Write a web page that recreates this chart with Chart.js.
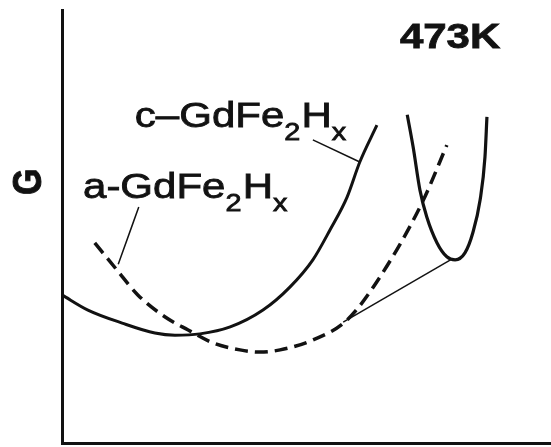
<!DOCTYPE html>
<html>
<head>
<meta charset="utf-8">
<title>G vs x, GdFe2Hx at 473K</title>
<script src="https://cdn.jsdelivr.net/npm/chart.js@4/dist/chart.umd.min.js"></script>
<style>
  html, body { margin: 0; padding: 0; background: #fff; }
  #wrap { width: 551px; height: 447px; }
</style>
</head>
<body>
<div id="wrap"><canvas id="gibbs" width="551" height="447"></canvas></div>
<script>
'use strict';
/* ---------------------------------------------------------------- DATA */
// hydrogen content (arb. units, 0..1) and free energy G (arb. units)
const crystX = [0, 0.053, 0.123, 0.190, 0.231, 0.282, 0.344, 0.411, 0.466, 0.513, 0.548, 0.583, 0.609, 0.644];
const crystG = [0.342, 0.307, 0.277, 0.254, 0.249, 0.252, 0.268, 0.307, 0.360, 0.423, 0.492, 0.568, 0.649, 0.734];

const amorphX = [0.067, 0.112, 0.155, 0.211, 0.258, 0.309, 0.364, 0.405, 0.446, 0.513, 0.583, 0.650, 0.736, 0.787];
const amorphG = [0.462, 0.400, 0.342, 0.291, 0.261, 0.231, 0.215, 0.210, 0.215, 0.238, 0.284, 0.383, 0.554, 0.688];

const hydrideX = [0.706, 0.718, 0.732, 0.746, 0.767, 0.787, 0.804, 0.824, 0.840, 0.855, 0.865, 0.869];
const hydrideG = [0.758, 0.684, 0.584, 0.522, 0.462, 0.430, 0.423, 0.439, 0.485, 0.561, 0.661, 0.753];

// common tangent between the amorphous curve and the hydride
const tangentX = [0.575, 0.798];
const tangentG = [0.279, 0.425];

// pointer lines from the labels to their curves
const crystPointerX = [0.513, 0.609];
const crystPointerG = [0.700, 0.649];
const amorphPointerX = [0.157, 0.115];
const amorphPointerG = [0.545, 0.413];

// text anchors (left edge / baseline) in data units
const tempLabel = '473K';
const tempAt = [0.691, 0.912];
const crystLabelAt = [0.149, 0.730];
const amorphLabelAt = [0.043, 0.566];
const axisLabelAt = [-0.065, 0.603];

/* ---------------------------------------------------------------- HELPERS */
function toPoints(xs, ys){
  return xs.map((x, i) => ({x: x, y: ys[i]}));
}

const INK = '#121212';
const STRETCH = 1.2;  // lettering is a little wider than Liberation Sans
const FONT = '"Liberation Sans", Arial, sans-serif';

// fill plus a thin outline so the letters come out a bit heavier
function inkText(ctx, t, x, y){
  ctx.fillText(t, x, y);
  ctx.strokeText(t, x, y);
}

// draws "prefix GdFe2Hx" with subscripts, left/baseline at (x, y)
function drawFormula(ctx, prefix, x, y){
  const parts = [
    {t: prefix + 'GdFe', sub: false},
    {t: '2', sub: true},
    {t: 'H', sub: false},
    {t: 'x', sub: true}
  ];
  ctx.save();
  ctx.translate(x, y);
  ctx.scale(STRETCH, 1);
  let cx = 0;
  for (const p of parts){
    ctx.font = (p.sub ? '24px ' : '35px ') + FONT;
    inkText(ctx, p.t, cx, p.sub ? 13 : 0);
    cx += ctx.measureText(p.t).width + (p.sub ? 1 : 0);
  }
  ctx.restore();
}

const labelPlugin = {
  id: 'labels',
  afterDatasetsDraw(chart){
    const ctx = chart.ctx;
    const xs = chart.scales.x;
    const ys = chart.scales.y;
    ctx.save();
    ctx.fillStyle = INK;
    ctx.strokeStyle = INK;
    ctx.lineWidth = 0.8;
    ctx.textAlign = 'left';
    ctx.textBaseline = 'alphabetic';

    // temperature
    ctx.save();
    ctx.translate(xs.getPixelForValue(tempAt[0]), ys.getPixelForValue(tempAt[1]));
    ctx.scale(STRETCH, 1);
    ctx.font = 'bold 35px ' + FONT;
    inkText(ctx, tempLabel, 0, 0);
    ctx.restore();

    drawFormula(ctx, 'c\u2013', xs.getPixelForValue(crystLabelAt[0]), ys.getPixelForValue(crystLabelAt[1]));
    drawFormula(ctx, 'a-', xs.getPixelForValue(amorphLabelAt[0]), ys.getPixelForValue(amorphLabelAt[1]));

    // G axis name, rotated
    ctx.save();
    ctx.translate(xs.getPixelForValue(axisLabelAt[0]), ys.getPixelForValue(axisLabelAt[1]));
    ctx.scale(STRETCH, 1);
    ctx.rotate(-Math.PI / 2);
    ctx.textAlign = 'center';
    ctx.textBaseline = 'middle';
    ctx.font = 'bold 34px ' + FONT;
    inkText(ctx, 'G', 0, 0);
    ctx.restore();

    ctx.restore();
  }
};

/* ---------------------------------------------------------------- CHART */
function curve(xs, ys, width, dash){
  return {
    data: toPoints(xs, ys),
    borderColor: INK,
    borderWidth: width,
    borderDash: dash || [],
    pointRadius: 0,
    fill: false,
    cubicInterpolationMode: 'monotone',
    borderCapStyle: 'butt'
  };
}

new Chart(document.getElementById('gibbs'), {
  type: 'line',
  data: {
    datasets: [
      curve(crystX, crystG, 3),
      curve(amorphX, amorphG, 3.5, [13, 7]),
      curve(hydrideX, hydrideG, 3.2),
      curve(tangentX, tangentG, 1.5),
      curve(crystPointerX, crystPointerG, 1.5),
      curve(amorphPointerX, amorphPointerG, 1.5)
    ]
  },
  options: {
    responsive: false,
    animation: false,
    devicePixelRatio: 1,
    layout: { padding: { left: 62, right: 0, top: 10, bottom: 4 } },
    plugins: { legend: { display: false }, tooltip: { enabled: false } },
    scales: {
      x: {
        type: 'linear', min: 0, max: 1,
        grid: { display: false, drawTicks: false },
        ticks: { display: false },
        border: { display: true, color: INK, width: 3 }
      },
      y: {
        type: 'linear', min: 0, max: 1,
        grid: { display: false, drawTicks: false },
        ticks: { display: false },
        border: { display: true, color: INK, width: 3 }
      }
    }
  },
  plugins: [labelPlugin]
});
</script>
</body>
</html>
